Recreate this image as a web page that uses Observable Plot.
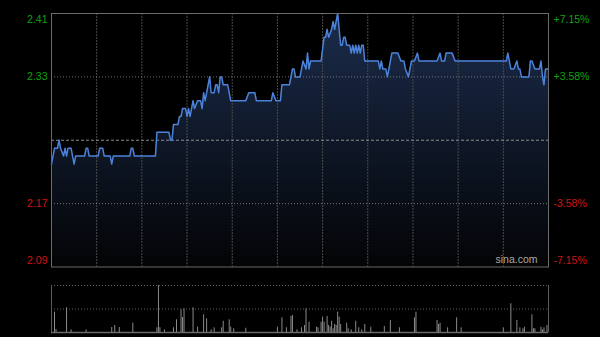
<!DOCTYPE html>
<html>
<head>
<meta charset="utf-8">
<script src="https://cdn.jsdelivr.net/npm/d3@7"></script>
<script src="https://cdn.jsdelivr.net/npm/@observablehq/plot@0.6"></script>
<style>
  html, body { margin: 0; padding: 0; background: #000; }
  #wrap { position: relative; width: 600px; height: 337px; background: #000; overflow: hidden; }
  #wrap svg { position: absolute; left: 0; }
</style>
</head>
<body>
<div id="wrap"></div>
<script>
// ---- data (minutes from 09:30, lunch break collapsed; HK session = 330 min) ----
const minutes = [0,2,4,5,6,8,9,10,11,13,15,16,22,23,24,25,31,32,34,35,39,40,41,52,53,54,55,69,70,78,79,80,81,84,85,86,87,89,90,91,92,94,95,97,99,100,101,102,104,105,106,108,109,110,111,112,113,114,117,119,129,131,135,136,146,147,149,152,153,158,160,161,162,165,166,167,169,170,171,172,179,181,182,183,184,186,187,188,189,190,192,193,194,195,196,197,198,199,200,201,202,203,204,205,206,207,208,217,218,219,220,222,223,224,226,230,232,234,235,237,238,239,241,243,244,256,258,259,261,262,266,268,302,303,305,307,309,310,311,312,317,318,319,321,324,325,326,327,328,330];
const prices = [2.22,2.24,2.24,2.25,2.24,2.23,2.24,2.23,2.24,2.24,2.22,2.23,2.23,2.24,2.24,2.23,2.23,2.24,2.24,2.23,2.23,2.22,2.23,2.23,2.24,2.24,2.23,2.23,2.26,2.26,2.25,2.25,2.27,2.27,2.28,2.28,2.29,2.29,2.28,2.29,2.28,2.30,2.29,2.30,2.30,2.29,2.31,2.30,2.32,2.33,2.31,2.31,2.32,2.32,2.31,2.33,2.33,2.32,2.32,2.30,2.30,2.31,2.31,2.30,2.30,2.31,2.30,2.30,2.32,2.32,2.34,2.34,2.33,2.33,2.34,2.35,2.34,2.36,2.34,2.35,2.35,2.38,2.38,2.39,2.38,2.39,2.40,2.39,2.40,2.41,2.37,2.37,2.38,2.38,2.37,2.37,2.37,2.36,2.37,2.36,2.37,2.36,2.37,2.36,2.37,2.37,2.35,2.35,2.34,2.35,2.34,2.34,2.33,2.34,2.36,2.36,2.35,2.35,2.34,2.33,2.34,2.35,2.35,2.36,2.35,2.35,2.36,2.35,2.35,2.36,2.36,2.35,2.35,2.36,2.34,2.34,2.35,2.34,2.34,2.33,2.33,2.35,2.35,2.34,2.34,2.35,2.33,2.32,2.34,2.34];

const volMinutes = [2,3,10,13,23,40,42,45,54,70,71,72,75,81,83,86,87,88,94,97,101,103,106,108,113,114,118,119,121,129,150,153,156,159,160,163,166,168,169,171,176,177,179,180,181,183,184,185,186,187,188,189,190,191,192,196,197,199,202,204,206,208,212,221,225,231,241,242,256,257,258,263,269,272,300,305,309,311,313,314,319,320,321,325,326,327,329];
const volumes    = [432,64,526,57,57,106,149,106,198,100,1000,100,57,100,270,483,319,504,526,113,377,291,57,100,100,240,270,113,79,90,113,313,100,340,362,57,100,149,504,219,113,100,219,326,219,340,149,113,240,79,170,149,432,326,170,198,79,57,240,100,57,170,113,128,255,100,313,432,255,170,198,100,313,100,100,611,255,100,79,113,377,79,79,113,57,100,149];

const prevClose = 2.25;
const priceTicks = [2.41, 2.33, 2.17, 2.09];
const pctLabels = ["+7.15%", "+3.58%", "-3.58%", "-7.15%"];
const gridMinutes = [30,60,90,120,150,180,210,240,270,300];

const series = minutes.map((t, i) => ({t, p: prices[i]}));
const vol = volMinutes.map((t, i) => ({t, v: volumes[i]}));

const FONT = "'Liberation Sans', Arial, sans-serif";
const GREEN = "#12a012", RED = "#d01414";
const yLo = priceTicks[3], yHi = priceTicks[0];

const labelMarks = [];
priceTicks.forEach((v, i) => {
  const dy = i === 0 ? 6 : i === priceTicks.length - 1 ? -6 : 0;
  const fill = v > prevClose ? GREEN : RED;
  labelMarks.push(Plot.text([v], {y: d => d, text: d => d.toFixed(2), frameAnchor: "left", textAnchor: "end", dx: -4, dy, fill, fontSize: 10.5}));
  labelMarks.push(Plot.text([pctLabels[i]], {y: () => v, text: d => d, frameAnchor: "right", textAnchor: "start", dx: 5, dy, fill, fontSize: 10.5}));
});

const main = Plot.plot({
  width: 600, height: 275,
  marginTop: 13, marginBottom: 8.5, marginLeft: 51, marginRight: 52,
  x: {domain: [0, 330], axis: null},
  y: {domain: [yLo, yHi], axis: null},
  style: {background: "transparent", fontFamily: FONT},
  marks: [
    Plot.areaY(series, {x: "t", y1: () => yLo, y2: "p", fill: "url(#pgrad)"}),
    Plot.ruleX(gridMinutes, {stroke: "#4a4a4a", strokeDasharray: "2,1"}),
    Plot.ruleY([priceTicks[1], priceTicks[2]], {stroke: "#8a8a8a", strokeDasharray: "1,2", strokeWidth: 0.8}),
    Plot.ruleY([prevClose], {stroke: "#8c8c8c", strokeDasharray: "3,2", strokeWidth: 1}),
    Plot.lineY(series, {x: "t", y: "p", stroke: "#4c82da", strokeWidth: 1.5, strokeLinejoin: "round"}),
    Plot.frame({stroke: "#6a6a6a"}),
    ...labelMarks,
    Plot.text(["sina.com"], {frameAnchor: "bottom-right", textAnchor: "end", dx: -11, dy: -4, text: d => d, fill: "#a8a8a8", fontSize: 10.5})
  ]
});
main.style.top = "0px";
const ns = "http://www.w3.org/2000/svg";
const defs = document.createElementNS(ns, "defs");
defs.innerHTML = '<linearGradient id="pgrad" gradientUnits="userSpaceOnUse" x1="0" y1="13" x2="0" y2="266"><stop offset="0" stop-color="#1b2c4c"/><stop offset="0.5" stop-color="#0f1828"/><stop offset="1" stop-color="#030406"/></linearGradient>';
main.insertBefore(defs, main.firstChild);

const volPlot = Plot.plot({
  width: 600, height: 62,
  marginTop: 10, marginBottom: 5, marginLeft: 51, marginRight: 52,
  x: {domain: [0, 330], axis: null},
  y: {domain: [0, 1000], axis: null},
  style: {background: "transparent", fontFamily: FONT},
  marks: [
    Plot.ruleY([1000, 500], {stroke: "#777", strokeDasharray: "1,2", strokeWidth: 0.8}),
    Plot.ruleX(vol, {x: "t", y1: () => 0, y2: "v", stroke: "#8a8a8a", strokeWidth: 1}),
    Plot.ruleY([0], {stroke: "#6a6a6a", strokeWidth: 1.5}),
    Plot.ruleX([0, 330], {y1: () => 0, y2: () => 1000, stroke: "#5a5a5a"})
  ]
});
volPlot.style.top = "275px";

const wrap = document.getElementById("wrap");
wrap.appendChild(main);
wrap.appendChild(volPlot);
</script>
</body>
</html>
